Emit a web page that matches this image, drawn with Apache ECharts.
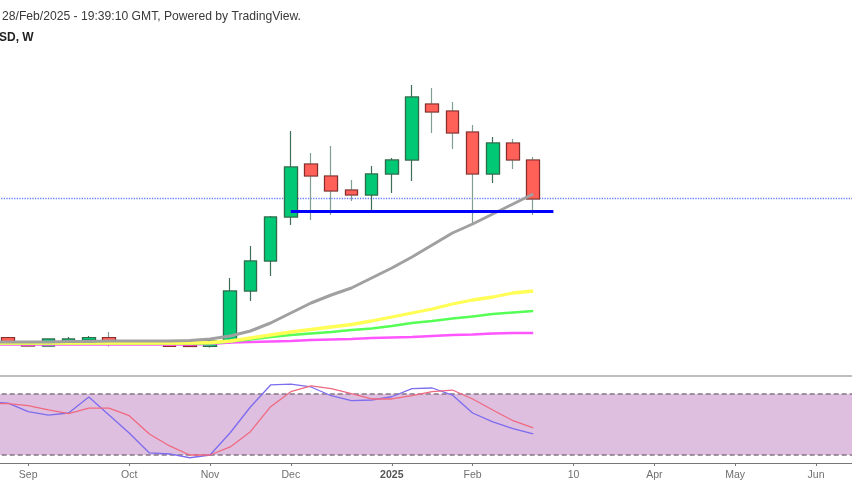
<!DOCTYPE html>
<html>
<head>
<meta charset="utf-8">
<style>
html,body{margin:0;padding:0;background:#fff;overflow:hidden;}
#chart{width:852px;height:485px;}
</style>
<script src="https://cdn.jsdelivr.net/npm/echarts@6/dist/echarts.min.js"></script>
</head>
<body>
<div id="chart"></div>
<script>
var weeks = ['Aug 19','Aug 26','Sep 2','Sep 9','Sep 16','Sep 23','Sep 30','Oct 7','Oct 14','Oct 21','Oct 28',
    'Nov 4','Nov 11','Nov 18','Nov 25','Dec 2','Dec 9','Dec 16','Dec 23','Dec 30','Jan 6','Jan 13','Jan 20','Jan 27',
    'Feb 3','Feb 10','Feb 17','Feb 24','Mar 3','Mar 10','Mar 17','Mar 24','Mar 31','Apr 7','Apr 14','Apr 21','Apr 28',
    'May 5','May 12','May 19','May 26','Jun 2','Jun 9','Jun 16'];
var tickWeeks = ['Sep 2','Oct 7','Nov 4','Dec 2','Jan 6','Feb 3','Mar 10','Apr 7','May 5','Jun 2'];
var tickLabels = ['Sep','Oct','Nov','Dec','2025','Feb','10','Apr','May','Jun'];

var opens  = [null,.575,.53,.49,.53,.55,.575,.53,.52,.52,.495,.485,.54,1.04,1.34,1.78,2.31,2.19,2.05,2.00,2.21,2.35,2.91,2.84,2.63,2.21,2.52,2.35];
var closes = [null,.53,.49,.56,.56,.575,.53,.51,.525,.485,.485,.54,1.04,1.34,1.78,2.28,2.19,2.04,2.00,2.21,2.35,2.98,2.83,2.62,2.21,2.52,2.35,1.96];
var lows   = [null,.52,.485,.485,.52,.54,.485,.50,.50,.48,.48,.475,.51,.94,1.19,1.70,1.75,1.80,1.94,1.83,2.02,2.14,2.62,2.46,1.72,2.12,2.26,1.80];
var highs  = [null,.58,.53,.56,.58,.59,.63,.54,.54,.52,.52,.55,1.17,1.49,1.79,2.64,2.42,2.49,2.15,2.29,2.37,3.10,3.07,2.93,2.70,2.58,2.56,2.38];

var maGray = [.53,.53,.53,.53,.535,.535,.54,.54,.54,.54,.545,.56,.59,.64,.72,.82,.92,1.00,1.07,1.17,1.27,1.38,1.50,1.62,1.71,1.81,1.91,2.01];
var maYellow = [.52,.52,.52,.52,.52,.52,.52,.52,.52,.52,.52,.525,.54,.57,.60,.63,.655,.68,.705,.74,.78,.82,.86,.91,.95,.98,1.02,1.04];
var maGreen = [.515,.515,.515,.515,.515,.515,.515,.515,.515,.515,.515,.515,.535,.555,.58,.60,.615,.63,.65,.665,.69,.72,.74,.765,.785,.81,.825,.84];
var maMagenta = [.505,.505,.505,.505,.505,.505,.505,.505,.505,.505,.505,.51,.525,.53,.535,.54,.55,.555,.56,.57,.575,.58,.59,.60,.605,.615,.62,.62];

var stochK = [72,71.1,62.6,59.3,61.3,77,59.3,41.6,22,21,17.3,20,41.9,67.2,88.9,89.8,86.9,78.3,73.4,74.1,77.3,85.2,85.9,79,61.3,52.5,45.9,40.7];
var stochD = [70.6,70.5,68.5,64.3,60.6,66.2,66.2,58.7,40.7,28.9,20,20,27.9,42.9,67.5,82.3,87.9,85.2,80.3,75.1,75.1,78.3,82.3,83.9,75.1,64.3,53.7,46.6];

var lastPrice = 1.965;
var supportPrice = 1.835;
var supportFrom = 'Dec 2';
var supportTo = 'Mar 3';

var wickData = [], bodyData = [];
for (var i = 0; i < opens.length; i++) {
    if (opens[i] === null) {
        wickData.push(['-','-','-','-']);
        bodyData.push(['-','-','-','-']);
        continue;
    }
    wickData.push([opens[i], closes[i], lows[i], highs[i]]);
    // body drawn again on top so the wick keeps its own colour
    bodyData.push([opens[i], closes[i], Math.min(opens[i], closes[i]), Math.max(opens[i], closes[i])]);
}

function isTick(index) {
    return tickWeeks.indexOf(weeks[index]) != -1;
}

function maLine(values, color, width) {
    return {
        type: 'line', data: values, xAxisIndex: 0, yAxisIndex: 0, z: 4,
        symbol: 'none', silent: true,
        lineStyle: {color: color, width: width}
    };
}

var myChart = echarts.init(document.getElementById('chart'), null, {renderer: 'canvas'});
var option = {
    animation: false,
    backgroundColor: '#ffffff',
    textStyle: {fontFamily: '"Liberation Sans", Arial, sans-serif'},
    graphic: [
        {type: 'text', left: 2, top: 11, style: {text: '28/Feb/2025 - 19:39:10 GMT, Powered by TradingView.', fill: '#3a3a3a', font: '12.15px "Liberation Sans", Arial, sans-serif'}},
        {type: 'text', left: -1, top: 32, style: {text: 'SD, W', fill: '#222222', font: 'bold 12px "Liberation Sans", Arial, sans-serif'}}
    ],
    grid: [
        {left: -22.3, right: -14.5, top: 0, height: 376, outerBoundsMode: 'none'},
        {left: -22.3, right: -14.5, top: 376, height: 87, outerBoundsMode: 'none'}
    ],
    xAxis: [
        {
            type: 'category', gridIndex: 0, data: weeks, boundaryGap: true,
            axisLine: {show: true, lineStyle: {color: '#aaaaaa', width: 1.5}},
            axisTick: {show: false}, axisLabel: {show: false}, splitLine: {show: false}
        },
        {
            type: 'category', gridIndex: 1, data: weeks, boundaryGap: true,
            axisLine: {show: true, lineStyle: {color: '#777777', width: 1}},
            axisTick: {show: true, alignWithLabel: true, length: 3, interval: isTick, lineStyle: {color: '#777777'}},
            axisLabel: {
                show: true, interval: isTick, color: '#707070', fontSize: 10.5, margin: 7,
                formatter: function (value) {
                    var label = tickLabels[tickWeeks.indexOf(value)];
                    return label == '2025' ? '{b|2025}' : label;
                },
                rich: {b: {fontWeight: 'bold', fontSize: 10.5, color: '#555555'}}
            },
            splitLine: {show: false}
        }
    ],
    yAxis: [
        {type: 'value', gridIndex: 0, min: 0.19, max: 3.95, show: false, splitLine: {show: false}},
        {type: 'value', gridIndex: 1, min: 12.13, max: 97.7, show: false, splitLine: {show: false}}
    ],
    series: [
        {
            type: 'candlestick', data: wickData, xAxisIndex: 0, yAxisIndex: 0, z: 2, barWidth: 13, silent: true,
            itemStyle: {color: '#00c875', color0: '#ff6058', borderColor: '#3f6f58', borderColor0: '#7f9f90', borderWidth: 1.2},
            markLine: {
                silent: true, symbol: 'none', z: 1, label: {show: false},
                lineStyle: {color: '#6a80ff', type: 'dotted', width: 1.3},
                data: [{yAxis: lastPrice}]
            }
        },
        {
            type: 'candlestick', data: bodyData, xAxisIndex: 0, yAxisIndex: 0, z: 3, barWidth: 13, silent: true,
            itemStyle: {color: '#00c875', color0: '#ff6058', borderColor: '#2f6b4a', borderColor0: '#8a2c2c', borderWidth: 1.2}
        },
        maLine(maMagenta, '#ff55ff', 2.7),
        maLine(maGreen, '#55ff55', 2.7),
        maLine(maYellow, '#ffff55', 3.3),
        maLine(maGray, '#a0a0a0', 3),
        {
            type: 'line', data: [], xAxisIndex: 0, yAxisIndex: 0, z: 5, silent: true,
            markLine: {
                silent: true, symbol: 'none', z: 5, label: {show: false},
                lineStyle: {color: '#0000ff', type: 'solid', width: 3},
                data: [[{coord: [supportFrom, supportPrice]}, {coord: [supportTo, supportPrice]}]]
            }
        },
        {
            type: 'line', data: stochK, xAxisIndex: 1, yAxisIndex: 1, z: 4, symbol: 'none', silent: true,
            lineStyle: {color: '#7b6cf0', width: 1.3},
            markArea: {
                silent: true, z: 1,
                itemStyle: {color: '#dfbfdf'},
                data: [[{yAxis: 80}, {yAxis: 20}]]
            },
            markLine: {
                silent: true, symbol: 'none', z: 2, label: {show: false},
                lineStyle: {color: '#857585', type: [5, 3], width: 1.5},
                data: [{yAxis: 80}, {yAxis: 20}]
            }
        },
        {
            type: 'line', data: stochD, xAxisIndex: 1, yAxisIndex: 1, z: 4, symbol: 'none', silent: true,
            lineStyle: {color: '#ef6a80', width: 1.3}
        }
    ]
};
myChart.setOption(option);
</script>
</body>
</html>
